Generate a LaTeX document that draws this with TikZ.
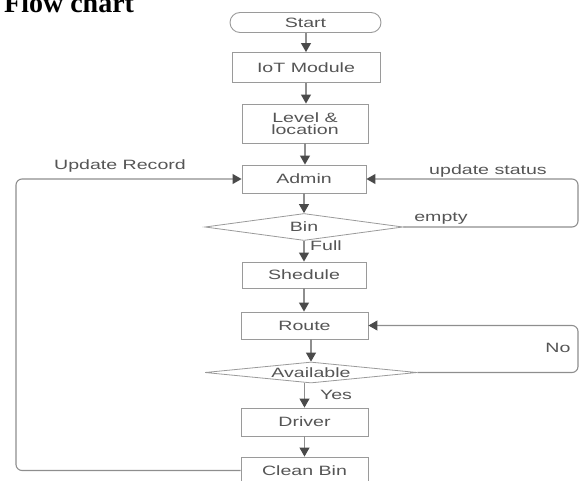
\documentclass[tikz,border=0pt]{standalone}
\usepackage{fontspec}
\setmainfont[FakeStretch=1.45]{Liberation Sans}
\newfontfamily\titlefont{Liberation Serif}
\usetikzlibrary{arrows.meta,shapes.geometric,shapes.misc}
\definecolor{linec}{HTML}{8E8E8E}
\definecolor{boxc}{HTML}{9A9A9A}
\definecolor{tipc}{HTML}{4A4A4A}
\definecolor{txtc}{HTML}{555555}
\tikzset{
  box/.style={draw=boxc, line width=0.9pt, fill=white, inner sep=0pt, align=center,
    font=\fontsize{13.5}{13}\selectfont, text=txtc},
  dia/.style={draw=boxc, line width=0.8pt, fill=white, diamond, inner sep=0pt, shape aspect=10,
    font=\fontsize{13.5}{13}\selectfont, text=txtc},
  lbl/.style={font=\fontsize{13.5}{13}\selectfont, text=txtc, inner sep=0pt},
  conn/.style={draw=linec, line width=1.1pt, -{Triangle[length=9pt,width=10pt,color=tipc]}},
  loopc/.style={draw=linec, line width=1.1pt, rounded corners=6pt, -{Triangle[length=9pt,width=10pt,color=tipc]}}
}
\begin{document}
\begin{tikzpicture}[x=1pt,y=-1pt]
\useasboundingbox (0,0) rectangle (580,481);
\clip (0,0) rectangle (580,481);
\node[anchor=base west, inner sep=0pt, font=\titlefont\bfseries\fontsize{28}{28}\selectfont] (title) at (4,13) {Flow chart};

\node[box, rounded rectangle, minimum width=151pt, minimum height=20pt] (start) at (305.5,22.5) {Start};
\node[box, minimum width=148pt, minimum height=30pt] (iot) at (306,67.5) {IoT Module};
\node[box, minimum width=126pt, minimum height=39pt] (level) at (305,123.5) {Level \&\\[-1pt]location};
\node[box, minimum width=124pt, minimum height=28pt] (admin) at (304,179) {Admin};
\node[dia, minimum width=198pt, minimum height=27pt] (bin) at (304,227) {Bin};
\node[box, minimum width=124pt, minimum height=26pt] (shed) at (304,275) {Shedule};
\node[box, minimum width=127pt, minimum height=27pt] (route) at (304.5,325.5) {Route};
\node[dia, minimum width=212pt, minimum height=21pt] (avail) at (311,372.5) {Available};
\node[box, minimum width=127pt, minimum height=28pt] (driver) at (304.5,422) {Driver};
\node[box, minimum width=127pt, minimum height=27pt] (clean) at (304.5,470.5) {Clean Bin};

\coordinate (lx) at (16,0);
\coordinate (rx) at (578,0);

\draw[conn] (start.south -| iot.north) -- (iot.north);
\draw[conn] (iot.south) -- (iot.south |- level.north);
\draw[conn] (level.south) -- (level.south |- admin.north);
\draw[conn] (admin.south) -- (bin.north -| admin.south);
\draw[conn] (bin.south) -- (bin.south |- shed.north);
\draw[conn] (shed.south) -- (route.north -| shed.south);
\draw[conn] (avail.north |- route.south) -- (avail.north);
\draw[conn] (avail.south -| driver.north) -- (driver.north);
\draw[conn] (driver.south) -- (clean.north);

\draw[loopc] (clean.west) -- (lx |- clean.west) -- (lx |- admin.west) -- (admin.west);
\draw[loopc] (bin.east) -- (rx |- bin.east) -- (rx |- admin.east) -- (admin.east);
\draw[loopc] (avail.east) -- (rx |- avail.east) -- (rx |- route.east) -- (route.east);

\node[lbl] (lupd) at (120,166) {Update Record};
\node[lbl] (lstat) at (488,171) {update status};
\node[lbl] (lempty) at (441,219) {empty};
\node[lbl] (lfull) at (326,246) {Full};
\node[lbl] (lno) at (558,348) {No};
\node[lbl] (lyes) at (336,395) {Yes};
\end{tikzpicture}
\end{document}
